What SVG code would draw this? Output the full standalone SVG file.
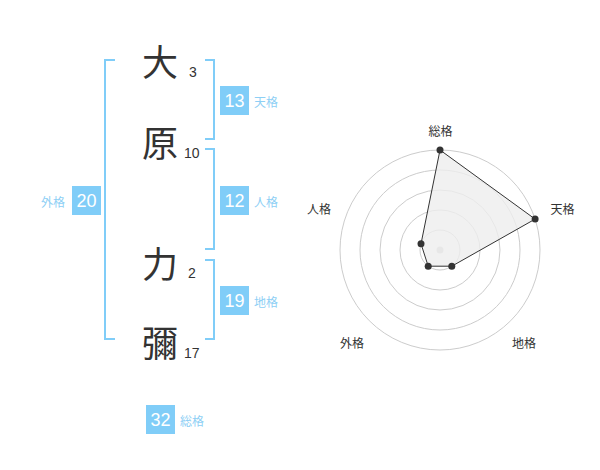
<svg xmlns="http://www.w3.org/2000/svg" width="600" height="470" viewBox="0 0 600 470">
<style>
.ch{font-family:"Noto Sans CJK JP","Noto Sans CJK SC",sans-serif;font-size:36px;fill:#333;text-anchor:middle;dominant-baseline:central}
.st{font-family:"Liberation Sans",Arial,sans-serif;font-size:14px;fill:#333}
.box{fill:#80cdf8}
.bn{font-family:"Liberation Sans",Arial,sans-serif;font-size:18px;fill:#fff;text-anchor:middle;dominant-baseline:central}
.lb{font-family:"Noto Sans CJK JP","Noto Sans CJK SC",sans-serif;font-size:12px;fill:#8ecff5;dominant-baseline:central}
.br{fill:none;stroke:#80cdf8;stroke-width:2}
.rl{font-family:"Noto Sans CJK JP","Noto Sans CJK SC",sans-serif;font-size:12px;fill:#333;text-anchor:middle;dominant-baseline:central}
.ring{fill:none;stroke:#cccccc;stroke-width:1}
.pt{fill:#333}
</style>
<g id="connectors">
<polyline class="br" points="115,60 105,60 105,339 115,339"/>
<polyline class="br" points="205,60 214,60 214,139 205,139"/>
<polyline class="br" points="205,149 214,149 214,249 205,249"/>
<polyline class="br" points="205,260 214,260 214,339 205,339"/>
</g>
<g id="char-dai"><text class="ch" x="160" y="60">大</text><text class="st" x="189" y="77">3</text></g>
<g id="char-hara"><text class="ch" x="160" y="141">原</text><text class="st" x="184" y="158">10</text></g>
<g id="char-chikara"><text class="ch" x="160" y="262">力</text><text class="st" x="188" y="278">2</text></g>
<g id="char-mi"><text class="ch" x="160" y="341">彌</text><text class="st" x="184" y="358">17</text></g>
<g id="tenkaku"><rect class="box" x="220" y="86" width="29" height="29"/><text class="bn" x="234.5" y="100.5">13</text><text class="lb" x="254" y="101">天格</text></g>
<g id="jinkaku"><rect class="box" x="220" y="186" width="29" height="29"/><text class="bn" x="234.5" y="200.5">12</text><text class="lb" x="254" y="201">人格</text></g>
<g id="chikaku"><rect class="box" x="220" y="286" width="29" height="29"/><text class="bn" x="234.5" y="300.5">19</text><text class="lb" x="254" y="301">地格</text></g>
<g id="gaikaku"><rect class="box" x="72" y="186" width="29" height="29"/><text class="bn" x="86.5" y="200.5">20</text><text class="lb" x="41" y="201">外格</text></g>
<g id="soukaku"><rect class="box" x="146" y="405" width="29" height="29"/><text class="bn" x="160.5" y="419.5">32</text><text class="lb" x="180" y="420">総格</text></g>
<g id="radar">
<circle class="ring" cx="440" cy="250" r="20"/>
<circle class="ring" cx="440" cy="250" r="40"/>
<circle class="ring" cx="440" cy="250" r="60"/>
<circle class="ring" cx="440" cy="250" r="80"/>
<circle class="ring" cx="440" cy="250" r="100"/>
<circle cx="440" cy="250" r="3.5" fill="#cccccc"/>
<polygon points="440,150 535.1,219.1 451.8,266.2 428.2,266.2 421,243.8" fill="#eeeeee" fill-opacity="0.8" stroke="#333" stroke-width="1"/>
<circle class="pt" cx="440" cy="150" r="3.5"/>
<circle class="pt" cx="535.1" cy="219.1" r="3.5"/>
<circle class="pt" cx="451.8" cy="266.2" r="3.5"/>
<circle class="pt" cx="428.2" cy="266.2" r="3.5"/>
<circle class="pt" cx="421" cy="243.8" r="3.5"/>
<text class="rl" x="440.5" y="130.5">総格</text>
<text class="rl" x="562.5" y="208">天格</text>
<text class="rl" x="524" y="342">地格</text>
<text class="rl" x="352" y="342">外格</text>
<text class="rl" x="319" y="208.5">人格</text>
</g>
</svg>
